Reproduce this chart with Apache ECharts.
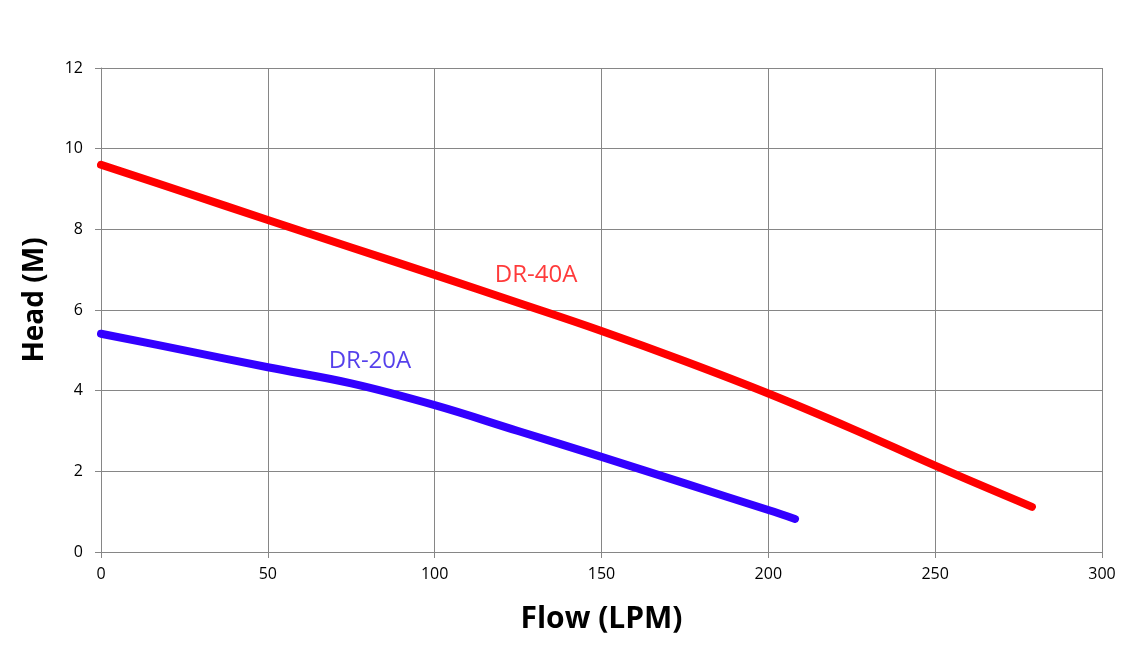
<!DOCTYPE html>
<html>
<head>
<meta charset="utf-8">
<script src="https://cdn.jsdelivr.net/npm/echarts@6/dist/echarts.min.js"></script>
<style>
  html, body { margin: 0; padding: 0; background: #fff; }
  #chart { width: 1133px; height: 647px; }
</style>
</head>
<body>
<div id="chart"></div>
<script>
// pump curves: [flow LPM, head M]
const dr40a = [[0, 9.6], [25, 8.92], [50, 8.23], [75, 7.55], [100, 6.87], [125, 6.18],
  [150, 5.48], [175, 4.73], [200, 3.93], [225, 3.06], [250, 2.14], [279, 1.12]]
const dr20a = [[0, 5.41], [25, 5.0], [50, 4.58], [75, 4.18], [100, 3.64], [125, 3.0],
  [150, 2.36], [175, 1.7], [200, 1.04], [208, 0.82]]

// where the series names sit in the plot
const labelSpots = [
  { name: "DR-40A", value: [130.4, 6.87], color: "#ff0a0a" },
  { name: "DR-20A", value: [80.6, 4.74], color: "#2a10e6" },
]

const chart = echarts.init(document.getElementById("chart"))

const gray = "#868686"
const font = "'Open Sans', 'Noto Sans', sans-serif"

const option = {
  backgroundColor: "#fff",
  animation: false,
  grid: { left: 101, right: 31, top: 68, bottom: 95, outerBoundsMode: "none" },
  xAxis: {
    type: "value",
    min: 0,
    max: 300,
    interval: 50,
    name: "Flow (LPM)",
    nameLocation: "middle",
    nameGap: 52,
    nameTextStyle: { fontSize: 30, fontWeight: "bold", color: "#000", fontFamily: font },
    axisLine: { lineStyle: { color: gray, width: 1 } },
    axisTick: { show: true, length: 6, lineStyle: { color: gray } },
    axisLabel: { color: "#000", fontSize: 16, fontFamily: font, margin: 14 },
    splitLine: { show: true, lineStyle: { color: gray, width: 1 } },
  },
  yAxis: {
    type: "value",
    min: 0,
    max: 12,
    interval: 2,
    name: "Head (M)",
    nameLocation: "middle",
    nameGap: 52,
    nameTextStyle: {
      fontSize: 28, fontWeight: "bold", color: "#000", fontFamily: font,
      padding: [0, 0, 0, 20],
    },
    axisLine: { show: true, lineStyle: { color: gray, width: 1 } },
    axisTick: { show: true, length: 6, lineStyle: { color: gray } },
    axisLabel: { color: "#000", fontSize: 16, fontFamily: font, margin: 18 },
    splitLine: { show: true, lineStyle: { color: gray, width: 1 } },
  },
  series: [
    {
      name: "DR-40A",
      type: "line",
      data: dr40a,
      smooth: 0.4,
      showSymbol: false,
      lineStyle: { color: "#ff0000", width: 8, cap: "round", join: "round" },
    },
    {
      name: "DR-20A",
      type: "line",
      data: dr20a,
      smooth: 0.4,
      showSymbol: false,
      lineStyle: { color: "#3300ff", width: 8, cap: "round", join: "round" },
    },
    {
      type: "scatter",
      symbolSize: 0,
      silent: true,
      data: labelSpots.map((s) => ({
        value: s.value,
        label: {
          show: true,
          position: "inside",
          formatter: s.name,
          color: s.color,
          fontSize: 24,
          fontFamily: font,
        },
      })),
    },
  ],
}

chart.setOption(option)
</script>
</body>
</html>
